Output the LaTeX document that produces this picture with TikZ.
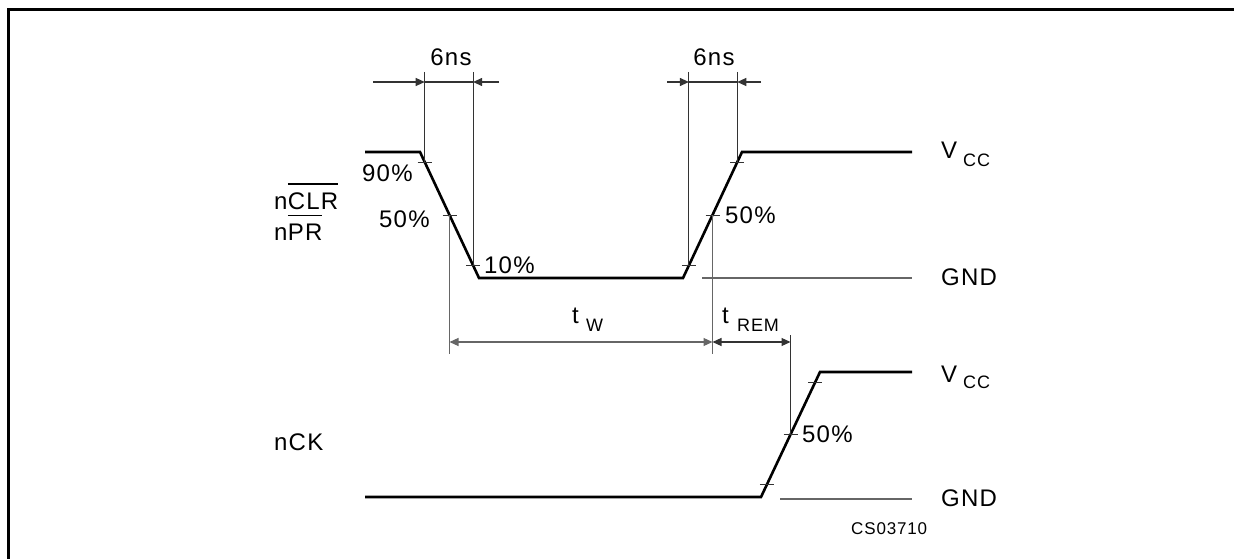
\documentclass[tikz,border=0pt]{standalone}
\usepackage{fontspec}
\setmainfont[LetterSpace=5]{Liberation Sans}
\usetikzlibrary{arrows.meta,calc}
\begin{document}
\begin{tikzpicture}[x=1pt,y=-1pt,
  sig/.style={line width=2.6pt, line join=miter},
  thinl/.style={line width=1.1pt, black!80},
  gline/.style={line width=1.1pt, black!60},
  tickm/.style={line width=1pt, black!80},
  bar/.style={line width=1.3pt},
  lbl/.style={inner sep=0pt, font=\fontsize{24}{28}\selectfont},
  sml/.style={inner sep=0pt, font=\fontsize{18}{20}\selectfont},
  tip/.style={-{Triangle[length=9pt,width=8pt]}},
  tips/.style={{Triangle[length=9pt,width=8pt]}-{Triangle[length=9pt,width=8pt]}},
]
\useasboundingbox (0,0) rectangle (1234,559);
\draw[line width=3pt] (8,559) -- (8,10) -- (1234,10);

% upper signal
\coordinate (A) at (365,152);
\coordinate (B) at (420,152);
\coordinate (C) at (479,278);
\coordinate (D) at (683,278);
\coordinate (E) at (742,152);
\coordinate (F) at (912,152);
\draw[sig] (A) -- (B) -- (C) -- (D) -- (E) -- (F);

% lower signal
\coordinate (G) at (365,497);
\coordinate (H) at (761,497);
\coordinate (I) at (820,372);
\coordinate (J) at (912,372);
\draw[sig] (G) -- (H) -- (I) -- (J);

% tick points
\coordinate (f90) at ($(B)!0.08!(C)$);
\coordinate (f50) at ($(B)!0.5!(C)$);
\coordinate (f10) at ($(B)!0.9!(C)$);
\coordinate (r10) at ($(D)!0.1!(E)$);
\coordinate (r50) at ($(D)!0.5!(E)$);
\coordinate (r90) at ($(D)!0.92!(E)$);
\coordinate (l10) at ($(H)!0.1!(I)$);
\coordinate (l50) at ($(H)!0.5!(I)$);
\coordinate (l90) at ($(H)!0.92!(I)$);
\foreach \p in {f90,f50,f10,r10,r50,r90,l10,l50,l90}
  \draw[tickm] ($(\p)+(-7,0)$) -- ($(\p)+(7,0)$);

% helper levels
\coordinate (ytop) at (0,72);
\coordinate (ydim) at (0,82);
\coordinate (ytw) at (0,342);
\coordinate (ytwb) at (0,354);
\coordinate (yrem) at (0,335);

% 6ns dimensions (left)
\draw[thinl] (f90 |- ytop) -- (f90);
\draw[thinl] (f10 |- ytop) -- (f10);
\coordinate (d1) at (373,82);
\coordinate (d2) at (499,82);
\draw[thinl,tip] (d1) -- (f90 |- ydim);
\draw[thinl] (f90 |- ydim) -- (f10 |- ydim);
\draw[thinl,tip] (d2) -- (f10 |- ydim);
\node[lbl,anchor=base] (ns1) at (451,66) {6ns};

% 6ns dimensions (right)
\draw[thinl] (r10 |- ytop) -- (r10);
\draw[thinl] (r90 |- ytop) -- (r90);
\coordinate (d3) at (667,82);
\coordinate (d4) at (761,82);
\draw[thinl,tip] (d3) -- (r10 |- ydim);
\draw[thinl] (r10 |- ydim) -- (r90 |- ydim);
\draw[thinl,tip] (d4) -- (r90 |- ydim);
\node[lbl,anchor=base] (ns2) at (714,66) {6ns};

% tW and tREM
\draw[gline] (f50) -- (f50 |- ytwb);
\draw[gline] (r50) -- (r50 |- ytwb);
\draw[gline,tips] (f50 |- ytw) -- (r50 |- ytw);
\draw[thinl] (l50) -- (l50 |- yrem);
\draw[thinl,tips] (r50 |- ytw) -- (l50 |- ytw);
\node[lbl,anchor=base west] (tw) at (572,323) {t};
\node[sml,anchor=base west] (tws) at (586,331) {W};
\node[lbl,anchor=base west] (tr) at (722,323) {t};
\node[sml,anchor=base west] (trs) at (737,331) {REM};

% GND reference lines
\coordinate (g1) at (702,278);
\coordinate (g2) at (912,278);
\draw[gline] (g1) -- (g2);
\coordinate (g3) at (780,499);
\coordinate (g4) at (912,499);
\draw[gline] (g3) -- (g4);

% percentage labels
\node[lbl,anchor=base west] (p90) at (362,181) {90\%};
\node[lbl,anchor=base west] (p50a) at (379,227) {50\%};
\node[lbl,anchor=base west] (p10) at (484,273) {10\%};
\node[lbl,anchor=base west] (p50b) at (725,223) {50\%};
\node[lbl,anchor=base west] (p50c) at (802,442) {50\%};

% rail labels
\node[lbl,anchor=base west] (v1) at (941,159) {V};
\node[sml,anchor=base west] (v1s) at (963,167) {CC};
\node[lbl,anchor=base west] (gnd1) at (941,285) {GND};
\node[lbl,anchor=base west] (v2) at (941,382) {V};
\node[sml,anchor=base west] (v2s) at (963,388) {CC};
\node[lbl,anchor=base west] (gnd2) at (941,506) {GND};

% signal names
\node[lbl,anchor=base west] (clrn) at (274,209) {n};
\node[lbl,anchor=base west] (clr) at (clrn.base east) {CLR};
\draw[bar] ([yshift=8pt]clr.north west) -- ([yshift=8pt,xshift=-1pt]clr.north east);
\node[lbl,anchor=base west] (prn) at (274,240) {n};
\node[lbl,anchor=base west] (pr) at (prn.base east) {PR};
\draw[bar] ([yshift=8pt]pr.north west) -- ([yshift=8pt,xshift=-1pt]pr.north east);
\node[lbl,anchor=base west] (ck) at (274,450) {nCK};

\node[inner sep=0pt,font=\fontsize{17}{19}\selectfont,anchor=base west] (code) at (851,534) {CS03710};
\end{tikzpicture}
\end{document}
